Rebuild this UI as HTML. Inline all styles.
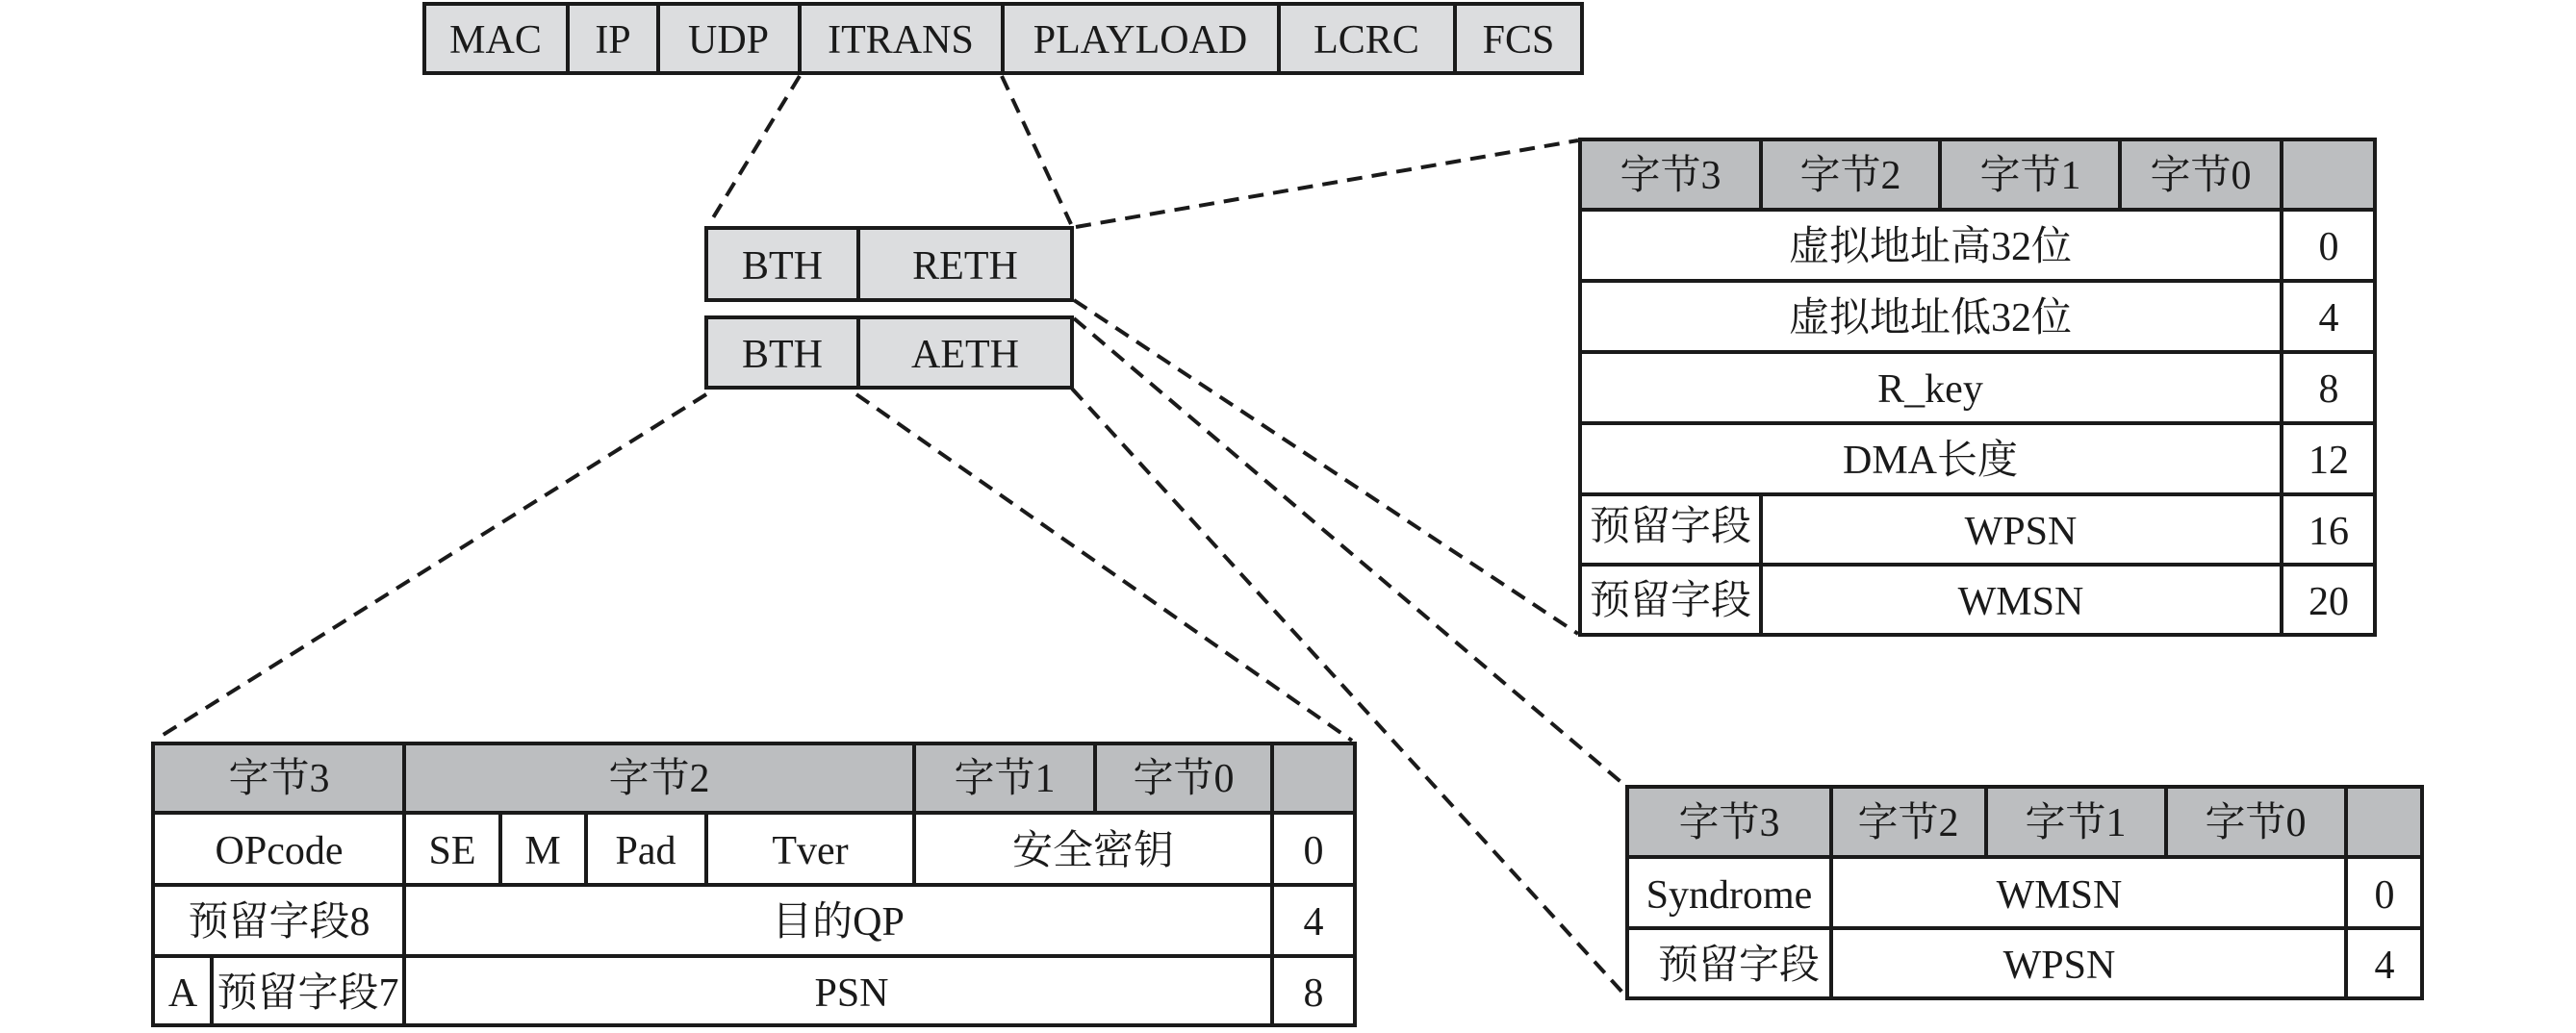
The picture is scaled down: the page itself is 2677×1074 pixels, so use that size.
<!DOCTYPE html>
<html><head><meta charset="utf-8"><style>
html,body{margin:0;padding:0;background:#fff;}
svg text{font-family:"Liberation Serif","Noto Serif CJK SC","Noto Sans CJK SC",serif;font-size:42px;fill:#1a1a1a;text-anchor:middle;}
</style></head><body>
<svg width="2677" height="1069" viewBox="0 0 2677 1069" xmlns="http://www.w3.org/2000/svg">
<g stroke="#1a1a1a" stroke-width="4" stroke-dasharray="16,10" fill="none">
<line x1="831" y1="79" x2="737" y2="233"/>
<line x1="1041" y1="79" x2="1113" y2="233"/>
<line x1="1118" y1="236" x2="1640" y2="146"/>
<line x1="1116" y1="312" x2="1640" y2="659"/>
<line x1="1116" y1="331" x2="1688" y2="816"/>
<line x1="1114" y1="404" x2="1690" y2="1036"/>
<line x1="734" y1="410" x2="163" y2="768"/>
<line x1="890" y1="410" x2="1405" y2="770"/>
</g>

<g stroke="#1a1a1a" stroke-width="4">
<rect x="441" y="4" width="1203" height="72" fill="#dcdddf"/>
<line x1="590" y1="4" x2="590" y2="76"/>
<line x1="684" y1="4" x2="684" y2="76"/>
<line x1="831" y1="4" x2="831" y2="76"/>
<line x1="1042" y1="4" x2="1042" y2="76"/>
<line x1="1329" y1="4" x2="1329" y2="76"/>
<line x1="1512" y1="4" x2="1512" y2="76"/>
</g>
<g>
<text x="515" y="55">MAC</text><text x="637" y="55">IP</text><text x="757" y="55">UDP</text>
<text x="936" y="55">ITRANS</text><text x="1185" y="55">PLAYLOAD</text><text x="1420" y="55">LCRC</text><text x="1578" y="55">FCS</text>
</g>

<g stroke="#1a1a1a" stroke-width="4" fill="#dcdddf">
<rect x="734" y="237" width="380" height="75"/>
<line x1="892" y1="237" x2="892" y2="312"/>
<rect x="734" y="330" width="380" height="73"/>
<line x1="892" y1="330" x2="892" y2="403"/>
</g>
<text x="813" y="290">BTH</text><text x="1003" y="290">RETH</text>
<text x="813" y="382">BTH</text><text x="1003" y="382">AETH</text>

<g stroke="#1a1a1a" stroke-width="4">
<rect x="1642" y="145" width="826" height="73" fill="#bcbec0"/>
<rect x="1642" y="218" width="826" height="442" fill="#fff"/>
<line x1="1830" y1="145" x2="1830" y2="218"/>
<line x1="2016" y1="145" x2="2016" y2="218"/>
<line x1="2203" y1="145" x2="2203" y2="218"/>
<line x1="2371" y1="145" x2="2371" y2="660"/>
<line x1="1642" y1="292" x2="2468" y2="292"/>
<line x1="1642" y1="366" x2="2468" y2="366"/>
<line x1="1642" y1="440" x2="2468" y2="440"/>
<line x1="1642" y1="514" x2="2468" y2="514"/>
<line x1="1642" y1="587" x2="2468" y2="587"/>
<line x1="1830" y1="514" x2="1830" y2="660"/>
</g>
<text x="1736" y="196">字节3</text><text x="1923" y="196">字节2</text><text x="2110" y="196">字节1</text><text x="2287" y="196">字节0</text>
<text x="2006" y="270">虚拟地址高32位</text><text x="2420" y="270">0</text>
<text x="2006" y="344">虚拟地址低32位</text><text x="2420" y="344">4</text>
<text x="2006" y="418">R_key</text><text x="2420" y="418">8</text>
<text x="2006" y="492">DMA长度</text><text x="2420" y="492">12</text>
<text x="1736" y="561">预留字段</text><text x="2100" y="566">WPSN</text><text x="2420" y="566">16</text>
<text x="1736" y="638">预留字段</text><text x="2100" y="639">WMSN</text><text x="2420" y="639">20</text>

<g stroke="#1a1a1a" stroke-width="4">
<rect x="159" y="773" width="1249" height="72" fill="#bcbec0"/>
<rect x="159" y="845" width="1249" height="221" fill="#fff"/>
<line x1="420" y1="773" x2="420" y2="1066"/>
<line x1="950" y1="773" x2="950" y2="920"/>
<line x1="1138" y1="773" x2="1138" y2="845"/>
<line x1="1322" y1="773" x2="1322" y2="1066"/>
<line x1="520" y1="845" x2="520" y2="920"/>
<line x1="609" y1="845" x2="609" y2="920"/>
<line x1="734" y1="845" x2="734" y2="920"/>
<line x1="159" y1="920" x2="1408" y2="920"/>
<line x1="159" y1="994" x2="1408" y2="994"/>
<line x1="220" y1="994" x2="220" y2="1066"/>
</g>
<text x="290" y="823">字节3</text><text x="685" y="823">字节2</text><text x="1044" y="823">字节1</text><text x="1230" y="823">字节0</text>
<text x="290" y="898">OPcode</text><text x="470" y="898">SE</text><text x="564" y="898">M</text><text x="671" y="898">Pad</text><text x="842" y="898">Tver</text><text x="1136" y="898">安全密钥</text><text x="1365" y="898">0</text>
<text x="290" y="972">预留字段8</text><text x="871" y="972">目的QP</text><text x="1365" y="972">4</text>
<text x="190" y="1046">A</text><text x="320" y="1046">预留字段7</text><text x="885" y="1046">PSN</text><text x="1365" y="1046">8</text>

<g stroke="#1a1a1a" stroke-width="4">
<rect x="1691" y="818" width="826" height="73" fill="#bcbec0"/>
<rect x="1691" y="891" width="826" height="147" fill="#fff"/>
<line x1="1903" y1="818" x2="1903" y2="1038"/>
<line x1="2064" y1="818" x2="2064" y2="891"/>
<line x1="2251" y1="818" x2="2251" y2="891"/>
<line x1="2438" y1="818" x2="2438" y2="1038"/>
<line x1="1691" y1="965" x2="2517" y2="965"/>
</g>
<text x="1797" y="869">字节3</text><text x="1983" y="869">字节2</text><text x="2157" y="869">字节1</text><text x="2344" y="869">字节0</text>
<text x="1797" y="944">Syndrome</text><text x="2140" y="944">WMSN</text><text x="2478" y="944">0</text>
<text x="1807" y="1017">预留字段</text><text x="2140" y="1017">WPSN</text><text x="2478" y="1017">4</text>
</svg>
</body></html>
